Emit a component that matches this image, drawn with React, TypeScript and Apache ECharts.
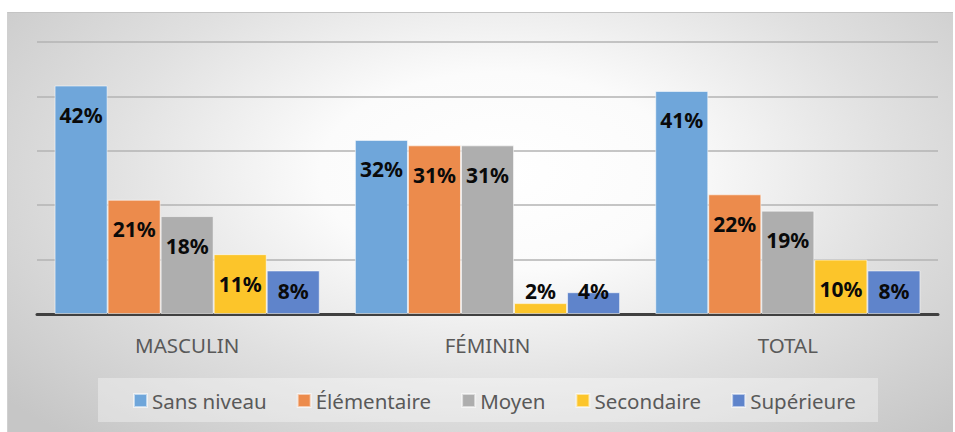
import React, { useEffect, useRef } from "react";
import * as echarts from "echarts";

const categories = ["MASCULIN", "FÉMININ", "TOTAL"];
const seriesNames = ["Sans niveau", "Élémentaire", "Moyen", "Secondaire", "Supérieure"];
const sansNiveau = [42, 32, 41];
const elementaire = [21, 31, 22];
const moyen = [18, 31, 19];
const secondaire = [11, 2, 10];
const superieure = [8, 4, 8];
const seriesValues = [sansNiveau, elementaire, moyen, secondaire, superieure];
const colors = ["#6FA6DA", "#EC8B4C", "#AEAEAE", "#FCC52A", "#5F84CB"];

const FONT = "'Noto Sans', 'DejaVu Sans', sans-serif";

export default function App() {
  const ref = useRef<HTMLDivElement>(null);

  useEffect(() => {
    if (!ref.current) return;
    const chart = echarts.init(ref.current, undefined, { renderer: "svg" });
    const series = seriesValues.map((vals, si) => ({
      name: seriesNames[si],
      type: "bar",
      barGap: "0%",
      barCategoryGap: "11.7%",
      itemStyle: {
        color: colors[si],
        borderColor: "rgba(255,255,255,0.55)",
        borderWidth: 1,
      },
      label: {
        show: true,
        position: "insideTop",
        distance: 19,
        formatter: "{c}%",
        color: "#0a0a0a",
        fontFamily: FONT,
        fontWeight: "bold",
        fontSize: 21,
      },
      data: vals.map((v) =>
        v < 9.5
          ? { value: v, label: { position: "insideBottom", distance: 13 } }
          : { value: v }
      ),
    }));

    chart.setOption({
      animation: false,
      color: colors,
      grid: { left: 37, right: 17, top: 42, bottom: 118, containLabel: false },
      xAxis: {
        type: "category",
        data: categories,
        axisLine: { show: true, lineStyle: { color: "#404040", width: 3 } },
        axisTick: { show: false },
        axisLabel: {
          color: "#595959",
          fontFamily: FONT,
          fontSize: 20.5,
          margin: 20,
        },
      },
      yAxis: {
        type: "value",
        min: 0,
        max: 50,
        interval: 10,
        axisLabel: { show: false },
        axisLine: { show: false },
        axisTick: { show: false },
        splitLine: { lineStyle: { color: "#b3b3b3", width: 1.5 } },
      },
      legend: {
        left: 128,
        top: 385,
        itemWidth: 13,
        itemHeight: 13,
        itemGap: 30,
        icon: "rect",
        textStyle: {
          color: "#595959",
          fontFamily: FONT,
          fontSize: 20.5,
          lineHeight: 20,
        },
      },
      graphic: [
        {
          type: "rect",
          left: 98,
          top: 378,
          shape: { width: 780, height: 44 },
          style: { fill: "rgba(255,255,255,0.35)" },
          z: -10,
          silent: true,
        },
      ],
      series,
    });
    return () => chart.dispose();
  }, []);

  return (
    <div style={{ position: "fixed", left: 0, top: 0, width: 955, height: 432, background: "#ffffff" }}>
      <div
        style={{
          position: "absolute",
          left: 7,
          top: 12,
          width: 946,
          height: 420,
          borderTop: "1px solid #c4c4c4",
          borderLeft: "1px solid #d0d0d0",
          boxSizing: "border-box",
          background:
            "radial-gradient(ellipse 68% 85% at 52% 38%, #ffffff 0%, #fbfbfb 28%, #e0e0e0 62%, #c6c6c6 100%)",
        }}
      />
      <div ref={ref} style={{ position: "absolute", left: 0, top: 0, width: 955, height: 432 }} />
    </div>
  );
}
